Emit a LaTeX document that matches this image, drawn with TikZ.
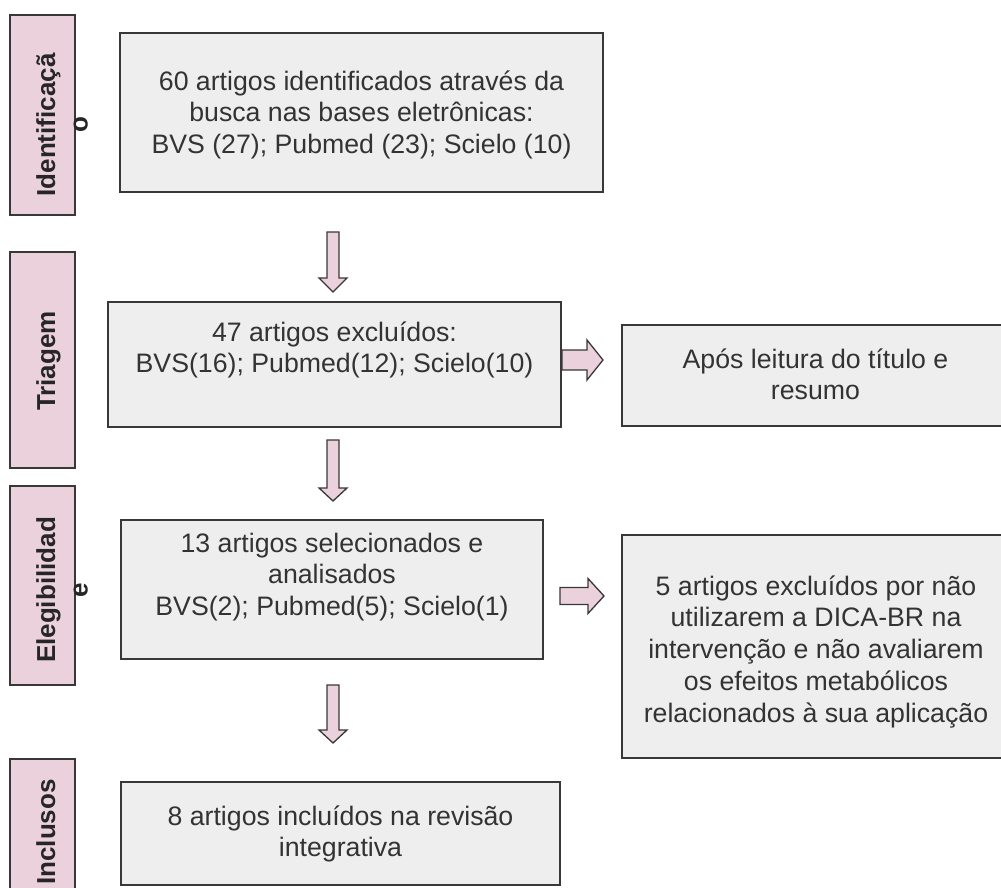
\documentclass[tikz,border=0pt]{standalone}
\usepackage{fontspec}
\setmainfont{Liberation Sans}
\definecolor{edge}{HTML}{383838}
\definecolor{boxfill}{HTML}{EEEEEE}
\definecolor{pinkfill}{HTML}{EAD1DC}
\definecolor{txt}{HTML}{333333}
\tikzset{
  box/.style={draw=edge, fill=boxfill, line width=1.5pt, inner sep=0pt},
  phase/.style={draw=edge, fill=pinkfill, line width=1.5pt, inner sep=0pt, minimum width=65pt},
  boxtext/.style={anchor=north, align=center, inner sep=0pt, text=txt,
    font=\fontsize{26.7}{31.7}\selectfont},
  phasetext/.style={anchor=north, align=center, inner sep=0pt, rotate=90, text=black!85,
    font=\fontsize{26}{32.5}\selectfont\bfseries},
  barrow/.style={draw=edge, fill=pinkfill, line width=1.3pt, line join=miter}
}
\newcommand{\downblock}[4]{% cx, top, headbase, tip
  \draw[barrow] ({#1-6},#2) -- ({#1+6},#2) -- ({#1+6},#3) -- ({#1+14},#3) -- (#1,#4)
    -- ({#1-14},#3) -- ({#1-6},#3) -- cycle;}
\newcommand{\rightblock}[6]{% left, headbase, tip, cy, shafthalf, headhalf
  \draw[barrow] (#1,{#4-#5}) -- (#2,{#4-#5}) -- (#2,{#4-#6}) -- (#3,#4) -- (#2,{#4+#6})
    -- (#2,{#4+#5}) -- (#1,{#4+#5}) -- cycle;}
\begin{document}
\begin{tikzpicture}[x=1pt,y=-1pt]
\useasboundingbox (0,0) rectangle (1001,888);
\clip (0,0) rectangle (1001,888);

% phase labels
\node[phase, minimum height=200pt] (p1) at (42.5,115) {};
\node[phasetext] (p1t) at (33,125) {\rule{0pt}{22pt}Identificaçã\\o};
\node[phase, minimum height=216pt] (p2) at (42.5,360) {};
\node[phasetext] (p2t) at (33,361) {\rule{0pt}{22pt}Triagem};
\node[phase, minimum height=199pt] (p3) at (42.5,585.5) {};
\node[phasetext] (p3t) at (33,590) {\rule{0pt}{22pt}Elegibilidad\\e};
\node[phase, minimum height=166pt] (p4) at (42.5,842) {};
\node[phasetext] (p4t) at (33,832) {\rule{0pt}{22pt}Inclusos};

% main boxes
\node[box, minimum width=483pt, minimum height=159pt] (b1) at (361.5,112.5) {};
\node[boxtext] (b1t) at (361.5,66) {\rule{0pt}{24pt}60 artigos identificados através da\\busca nas bases eletrônicas:\\BVS (27); Pubmed (23); Scielo (10)};

\node[box, minimum width=453pt, minimum height=125pt] (b2) at (334.5,364.5) {};
\node[boxtext] (b2t) at (334.5,317) {\rule{0pt}{24pt}47 artigos excluídos:\\BVS(16); Pubmed(12); Scielo(10)};

\node[box, minimum width=387pt, minimum height=101pt] (r1) at (815.5,375.5) {};
\node[boxtext] (r1t) at (815.5,344) {\rule{0pt}{24pt}Após leitura do título e\\resumo};

\node[box, minimum width=422pt, minimum height=139pt] (b3) at (332,589.5) {};
\node[boxtext] (b3t) at (332,528) {\rule{0pt}{24pt}13 artigos selecionados e\\analisados\\BVS(2); Pubmed(5); Scielo(1)};

\node[box, minimum width=387pt, minimum height=223pt] (r2) at (815.5,646.5) {};
\node[boxtext] (r2t) at (816,571) {\rule{0pt}{24pt}5 artigos excluídos por não\\utilizarem a DICA-BR na\\intervenção e não avaliarem\\os efeitos metabólicos\\relacionados à sua aplicação};

\node[box, minimum width=439pt, minimum height=103pt] (b4) at (340.5,833.5) {};
\node[boxtext] (b4t) at (340.5,801) {\rule{0pt}{24pt}8 artigos incluídos na revisão\\integrativa};

% block arrows
\downblock{333}{232}{278}{292}
\downblock{333}{440}{488}{501}
\downblock{333}{685}{730}{743}
\rightblock{562}{587}{603}{360}{10}{20}
\rightblock{560}{588}{604}{596}{8.5}{17.5}
\end{tikzpicture}
\end{document}
